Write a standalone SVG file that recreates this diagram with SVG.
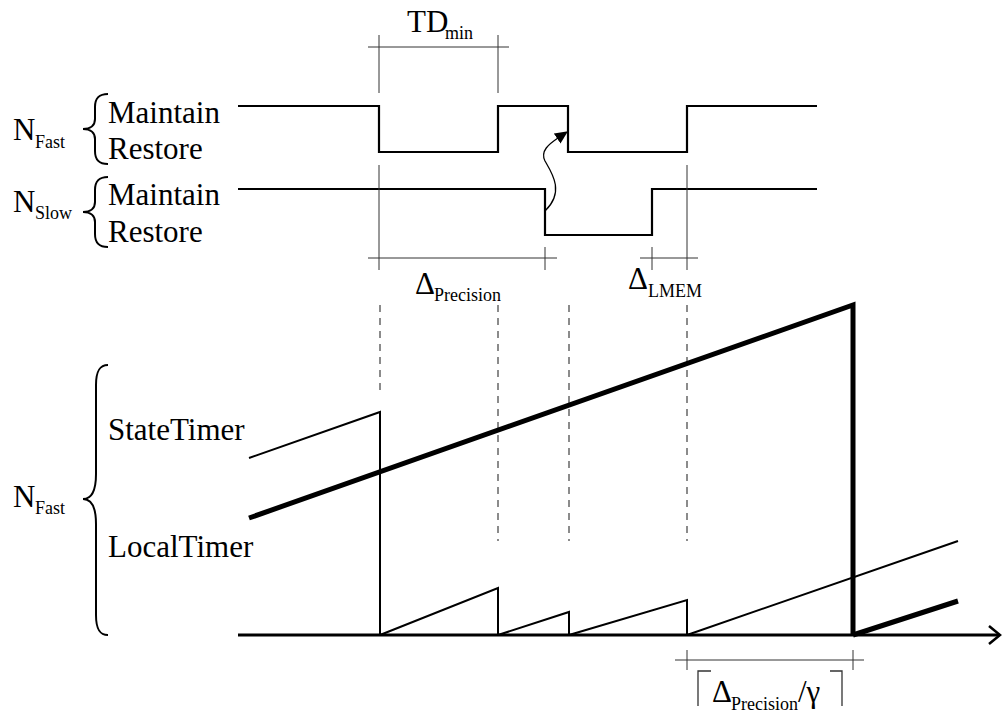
<svg xmlns="http://www.w3.org/2000/svg" width="1002" height="715" viewBox="0 0 1002 715">
<style>
.sig{fill:none;stroke:#000;stroke-width:2.2}
.dim{fill:none;stroke:#333;stroke-width:1}
.dash{fill:none;stroke:#666;stroke-width:1.5;stroke-dasharray:7,6}
.thin{fill:none;stroke:#000;stroke-width:2}
.thick{fill:none;stroke:#000;stroke-width:5}
.brace{fill:none;stroke:#000;stroke-width:2}
</style>
<defs>
<marker id="ah" markerUnits="userSpaceOnUse" markerWidth="14" markerHeight="14" refX="1" refY="6" orient="auto">
<path d="M0,0 L13,6 L0,12 z" fill="#000"/>
</marker>
</defs>
<rect width="1002" height="715" fill="#fff"/>

<g id="labels-top">
<text font-family="Liberation Serif" font-size="31" x="407" y="32">TD<tspan font-size="18" x="445" y="39">min</tspan></text>
<text font-family="Liberation Serif" font-size="31" x="13" y="140">N<tspan font-size="18" x="35" y="148">Fast</tspan></text>
<text font-family="Liberation Serif" font-size="31" x="108" y="123">Maintain</text>
<text font-family="Liberation Serif" font-size="31" x="108" y="159">Restore</text>
<text font-family="Liberation Serif" font-size="31" x="13" y="212">N<tspan font-size="18" x="35" y="219">Slow</tspan></text>
<text font-family="Liberation Serif" font-size="31" x="108" y="205">Maintain</text>
<text font-family="Liberation Serif" font-size="31" x="108" y="242">Restore</text>
<path class="brace" d="M108,94 C98,94 95,99 95,107 L95,119 C95,125 91,129 83,129 C91,129 95,133 95,139 L95,151 C95,159 98,164 108,164"/>
<path class="brace" d="M108,177 C98,177 95,182 95,190 L95,202 C95,208 91,212 83,212 C91,212 95,216 95,222 L95,234 C95,242 98,247 108,247"/>
</g>

<g id="signal-fast"><path class="sig" d="M238,106 H379 V152 H498 V106 H568 V152 H687 V106 H817"/></g>
<g id="signal-slow"><path class="sig" d="M238,189 H545 V235 H652 V189 H817"/></g>

<g id="dimensions-top">
<path class="dim" d="M368,47 H509 M379,35 V93 M498,35 V93"/>
<path class="dim" d="M379,165 V270 M687,165 V270 M545,247 V270 M652,247 V270 M368,258 H557 M640,258 H698"/>
<text font-family="Liberation Serif" font-size="31" x="415" y="294">Δ<tspan font-size="18" x="434" y="301">Precision</tspan></text>
<text font-family="Liberation Serif" font-size="31" x="628" y="289">Δ<tspan font-size="18" x="648" y="297">LMEM</tspan></text>
</g>

<g id="connectors">
<path fill="none" stroke="#000" stroke-width="1.3" d="M545,211 C565,192 552,173 545,161 C540,151 549,144 558,138" marker-end="url(#ah)"/>
</g>

<g id="dashed-guides">
<path class="dash" d="M380,305 V390"/>
<path class="dash" d="M498,305 V541"/>
<path class="dash" d="M569,305 V541"/>
<path class="dash" d="M687,305 V541"/>
</g>

<g id="labels-bottom">
<text font-family="Liberation Serif" font-size="31" x="13" y="507">N<tspan font-size="18" x="35" y="514">Fast</tspan></text>
<text font-family="Liberation Serif" font-size="31" x="108" y="440">StateTimer</text>
<text font-family="Liberation Serif" font-size="31" x="108" y="557">LocalTimer</text>
<path class="brace" d="M108,365 C99,365 96,372 96,385 L96,474 C96,490 92,499 83,499 C92,499 96,508 96,524 L96,615 C96,628 99,635 108,635"/>
</g>

<g id="state-timer">
<path class="thin" d="M249,458 L380,412 V635 M380,635 L498,588 V635 M498,635 L569,612 V635 M569,635 L687,600 V635 M687,635 L958,541"/>
</g>

<g id="local-timer">
<path class="thick" d="M249,518 L853,305 V635 M853,635 L958,601"/>
</g>

<g id="axis">
<path fill="none" stroke="#000" stroke-width="3" d="M238,635 H999"/>
<path fill="none" stroke="#000" stroke-width="2.5" d="M989,626 L1000,635 L989,644"/>
</g>

<g id="dimension-bottom">
<path class="dim" d="M675,660 H864 M687,650 V670 M853,650 V670"/>
<path fill="none" stroke="#333" stroke-width="1.3" d="M711,671 H698 V706 M830,671 H842 V706"/>
<text font-family="Liberation Serif" font-size="31" x="712" y="702">Δ<tspan font-size="18" x="731" y="710">Precision</tspan><tspan x="798" y="702">/γ</tspan></text>
</g>
</svg>
